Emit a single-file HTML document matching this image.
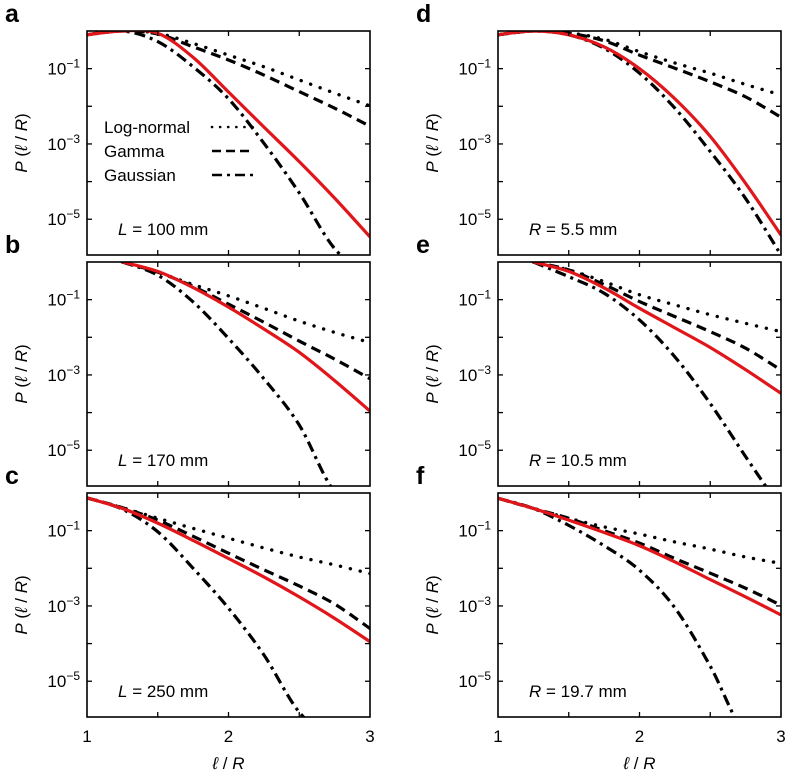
<!DOCTYPE html>
<html><head><meta charset="utf-8"><style>
html,body{margin:0;padding:0;background:#fff;width:788px;height:778px;overflow:hidden;}
svg{display:block;font-family:"Liberation Sans",Arial,sans-serif;overflow:hidden;}
</style></head><body>
<svg id="chart" width="788" height="778"></svg>
<script>
const panelNames = ["a","b","c","d","e","f"];
const panelLabels = ["L = 100 mm","L = 170 mm","L = 250 mm","R = 5.5 mm","R = 10.5 mm","R = 19.7 mm"];
const yTickExps = [-1,-3,-5];
const xTicks = [1,2,3];
// shared grid of l/R values
const xGrid = [1,1.25,1.5,1.75,2,2.25,2.5,2.75,3];
// first grid index each panel's curves start at
const startIdx = [0,1,0,0,1,0];
// log10 P values on xGrid (null before start)
const redY = [
 [-0.1,0,-0.06,-0.7,-1.62,-2.55,-3.47,-4.44,-5.47],
 [null,0,-0.25,-0.68,-1.2,-1.78,-2.4,-3.15,-3.96],
 [-0.13,-0.41,-0.8,-1.26,-1.74,-2.23,-2.76,-3.33,-3.95],
 [-0.1,0,-0.1,-0.42,-1.0,-1.8,-2.8,-4.05,-5.42],
 [null,0,-0.25,-0.69,-1.23,-1.75,-2.27,-2.86,-3.49],
 [-0.14,-0.41,-0.72,-1.05,-1.4,-1.83,-2.3,-2.76,-3.24]];
const lnY = [
 [-0.1,0,-0.06,-0.33,-0.64,-0.95,-1.3,-1.65,-1.99],
 [null,0,-0.27,-0.6,-0.9,-1.23,-1.57,-1.87,-2.14],
 [-0.13,-0.39,-0.67,-0.94,-1.2,-1.46,-1.7,-1.91,-2.14],
 [-0.1,0,-0.05,-0.22,-0.55,-0.85,-1.12,-1.42,-1.7],
 [null,0,-0.21,-0.52,-0.87,-1.14,-1.4,-1.63,-1.85],
 [-0.14,-0.41,-0.67,-0.9,-1.09,-1.3,-1.49,-1.7,-1.87]];
const gmY = [
 [-0.1,0,-0.08,-0.42,-0.77,-1.17,-1.61,-2.05,-2.53],
 [null,0,-0.27,-0.65,-1.12,-1.6,-2.1,-2.58,-3.1],
 [-0.13,-0.39,-0.72,-1.15,-1.6,-2.04,-2.47,-2.95,-3.6],
 [-0.1,0,-0.06,-0.26,-0.64,-0.99,-1.35,-1.75,-2.29],
 [null,0,-0.21,-0.6,-1.05,-1.45,-1.85,-2.29,-2.87],
 [-0.14,-0.41,-0.67,-1.0,-1.33,-1.74,-2.13,-2.53,-2.98]];
const gsY = [
 [-0.1,0,-0.28,-0.95,-1.8,-2.98,-4.3,-5.78,-7.4],
 [null,0,-0.35,-1.06,-2.03,-3.1,-4.33,-6.1,-7.9],
 [-0.13,-0.43,-1.03,-2.0,-3.06,-4.3,-5.82,-7.5,-9.3],
 [-0.1,0,-0.1,-0.46,-1.12,-2.05,-3.2,-4.45,-5.95],
 [null,0,-0.39,-0.83,-1.54,-2.52,-3.76,-5.17,-6.8],
 [-0.14,-0.41,-0.86,-1.4,-2.05,-3.05,-4.6,-6.4,-8.2]];

const svg=document.getElementById('chart');
const NS="http://www.w3.org/2000/svg";
function mk(tag,attrs,parent){const e=document.createElementNS(NS,tag);for(const k in attrs)e.setAttribute(k,attrs[k]);(parent||svg).appendChild(e);return e;}
const colX=[87,498], W=283, rowY=[31,262,493], H=224, YMAX=0.0, YMIN=-5.95;
function path(ys,s,sx,sy){
  const p=[];for(let i=s;i<xGrid.length;i++)p.push([sx(xGrid[i]),sy(ys[i])]);
  let d="M"+p[0][0].toFixed(2)+","+p[0][1].toFixed(2);
  for(let i=0;i<p.length-1;i++){
    const p0=p[Math.max(0,i-1)],p1=p[i],p2=p[i+1],p3=p[Math.min(p.length-1,i+2)];
    const c1=[p1[0]+(p2[0]-p0[0])/6,p1[1]+(p2[1]-p0[1])/6],c2=[p2[0]-(p3[0]-p1[0])/6,p2[1]-(p3[1]-p1[1])/6];
    d+=" C"+c1.map(v=>v.toFixed(2))+" "+c2.map(v=>v.toFixed(2))+" "+p2.map(v=>v.toFixed(2));
  }
  return d;
}
for(let i=0;i<6;i++){
  const col=Math.floor(i/3), row=i%3, X0=colX[col], Y0=rowY[row], s=startIdx[i];
  const sx=x=>X0+(x-1)/2*W;
  const sy=v=>Y0+(YMAX-Math.max(v,YMIN-0.6))/(YMAX-YMIN)*H;
  const g=mk('g',{});
  
  
  const cp=mk('clipPath',{id:'cp'+i},g);mk('rect',{x:X0,y:Y0,width:W,height:H},cp);
  const plot=mk('g',{'clip-path':'url(#cp'+i+')'},g);
  const sG=mk('path',{d:path(gsY[i],s,sx,sy),fill:'none',stroke:'#000','stroke-width':3.2,'stroke-dasharray':'11 5 3 5'},plot);
  
  const sM=mk('path',{d:path(gmY[i],s,sx,sy),fill:'none',stroke:'#000','stroke-width':3.2,'stroke-dasharray':'10 6'},plot);
  
  const sL=mk('path',{d:path(lnY[i],s,sx,sy),fill:'none',stroke:'#000','stroke-width':3.4,'stroke-dasharray':'0.1 10','stroke-linecap':'round'},plot);
  
  const sR=mk('path',{d:path(redY[i],s,sx,sy),fill:'none',stroke:'#e0161b','stroke-width':3.2},plot);
  
  mk('rect',{x:X0,y:Y0,width:W,height:H,fill:'none',stroke:'#000','stroke-width':1.6},g);
  [1.5,2,2.5].forEach(x=>{mk('line',{x1:sx(x),x2:sx(x),y1:Y0,y2:Y0+5,stroke:'#000','stroke-width':1.3},g);mk('line',{x1:sx(x),x2:sx(x),y1:Y0+H,y2:Y0+H-5,stroke:'#000','stroke-width':1.3},g);});
  [-1,-2,-3,-4,-5].forEach(v=>{mk('line',{x1:X0,x2:X0+5,y1:sy(v),y2:sy(v),stroke:'#000','stroke-width':1.3},g);mk('line',{x1:X0+W,x2:X0+W-5,y1:sy(v),y2:sy(v),stroke:'#000','stroke-width':1.3},g);});
  yTickExps.forEach(v=>{
    const t=mk('text',{x:X0-7,y:sy(v)+6,'text-anchor':'end','font-size':17},g);
    
    t.innerHTML='10<tspan dy="-7" font-size="12">−'+(-v)+'</tspan>';
  });
  const yl=mk('text',{transform:'translate('+(X0-60)+','+(Y0+H/2)+') rotate(-90)','text-anchor':'middle','font-size':17},g);
  
  yl.innerHTML='<tspan font-style="italic">P</tspan> (<tspan font-style="italic">ℓ</tspan> / <tspan font-style="italic">R</tspan>)';
  const pl=mk('text',{x:X0-82,y:Y0-9,'font-size':25,'font-weight':'bold'},g);
  
  pl.textContent=panelNames[i];
  const an=mk('text',{x:X0+31,y:Y0+204,'font-size':17},g);
  
  const parts=panelLabels[i].split(' = ');
  an.innerHTML='<tspan font-style="italic">'+parts[0]+'</tspan> = '+parts[1];
  if(row===2){
    xTicks.forEach(x=>{const t=mk('text',{x:sx(x),y:Y0+H+25,'text-anchor':'middle','font-size':17},g);
      t.textContent=x;});
    const xl=mk('text',{x:X0+W/2,y:Y0+H+52,'text-anchor':'middle','font-size':17},g);
    
    xl.innerHTML='<tspan font-style="italic">ℓ</tspan> / <tspan font-style="italic">R</tspan>';
  }
}
const legNames=["Log-normal","Gamma","Gaussian"], legDash=['0.1 8','9 5','10 5 3 5'];
const lg=mk('g',{});
legNames.forEach((n,k)=>{
  const y=133+k*24;
  const t=mk('text',{x:104,y:y,'font-size':17},lg);t.textContent=n;
  mk('line',{x1:212,x2:254,y1:y-6,y2:y-6,stroke:'#000','stroke-width':2.6,'stroke-dasharray':legDash[k],'stroke-linecap':k===0?'round':'butt'},lg);
});
</script>
</body></html>
